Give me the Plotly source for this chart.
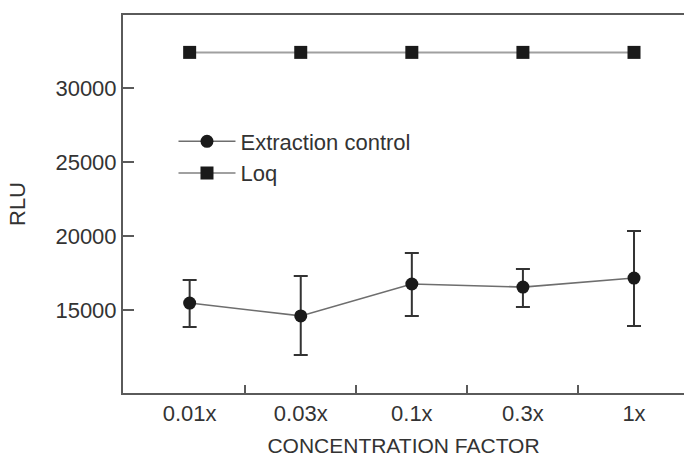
import plotly.graph_objects as go

categories = ["0.01x", "0.03x", "0.1x", "0.3x", "1x"]
extraction_mean = [15470, 14600, 16760, 16550, 17160]
extraction_upper = [17030, 17300, 18850, 17770, 20340]
extraction_lower = [13850, 11960, 14600, 15200, 13920]
loq_values = [32430, 32430, 32430, 32430, 32430]

x_pos = list(range(len(categories)))
err_plus = [u - m for u, m in zip(extraction_upper, extraction_mean)]
err_minus = [m - l for m, l in zip(extraction_mean, extraction_lower)]

FONT = "Liberation Sans, Arial, sans-serif"
TXT = "#333333"
AX = "#5a5a5a"

fig = go.Figure()
fig.add_trace(go.Scatter(
    x=x_pos, y=extraction_mean, name="Extraction control",
    mode="lines+markers",
    line=dict(color="#6e6e6e", width=1.6),
    marker=dict(symbol="circle", size=13, color="#1a1a1a"),
    error_y=dict(type="data", symmetric=False, array=err_plus, arrayminus=err_minus,
                 color="#333333", thickness=2, width=7),
))
fig.add_trace(go.Scatter(
    x=x_pos, y=loq_values, name="Loq",
    mode="lines+markers",
    line=dict(color="#a0a0a0", width=2),
    marker=dict(symbol="square", size=13, color="#1a1a1a"),
))

fig.update_layout(
    width=684, height=459,
    margin=dict(l=123, r=0, t=15, b=66, autoexpand=False),
    paper_bgcolor="white", plot_bgcolor="white",
    font=dict(family=FONT, size=22, color=TXT),
    showlegend=True,
    legend=dict(x=0.09, y=0.623, xanchor="left", yanchor="middle",
                bgcolor="rgba(0,0,0,0)", font=dict(size=22, color=TXT),
                itemwidth=57, tracegroupgap=0),
    xaxis=dict(
        range=[-0.6, 4.45], automargin=False,
        tickmode="array", tickvals=x_pos, ticktext=categories,
        ticks="", showgrid=False, zeroline=False,
        showline=True, linecolor=AX, linewidth=2, mirror=True,
        minor=dict(tickmode="array", tickvals=[0.5, 1.5, 2.5, 3.5],
                   ticks="inside", ticklen=8, tickwidth=2, tickcolor=AX, showgrid=False),
        title=dict(text="CONCENTRATION FACTOR", font=dict(size=21, color=TXT), standoff=13),
        tickfont=dict(size=22, color=TXT),
    ),
    yaxis=dict(
        range=[9384, 34960], automargin=False,
        tickmode="array", tickvals=[15000, 20000, 25000, 30000],
        ticktext=["15000", "20000", "25000", "30000"],
        ticks="inside", ticklen=11, tickwidth=2, tickcolor=AX,
        showgrid=False, zeroline=False,
        showline=True, linecolor=AX, linewidth=2,
        title=dict(text="RLU", font=dict(size=22, color=TXT), standoff=24),
        tickfont=dict(size=22, color=TXT),
    ),
)

fig.write_html(
    "out.html",
    config={"displayModeBar": False},
    post_script="document.body.style.margin='0';document.body.style.overflow='hidden';",
)
